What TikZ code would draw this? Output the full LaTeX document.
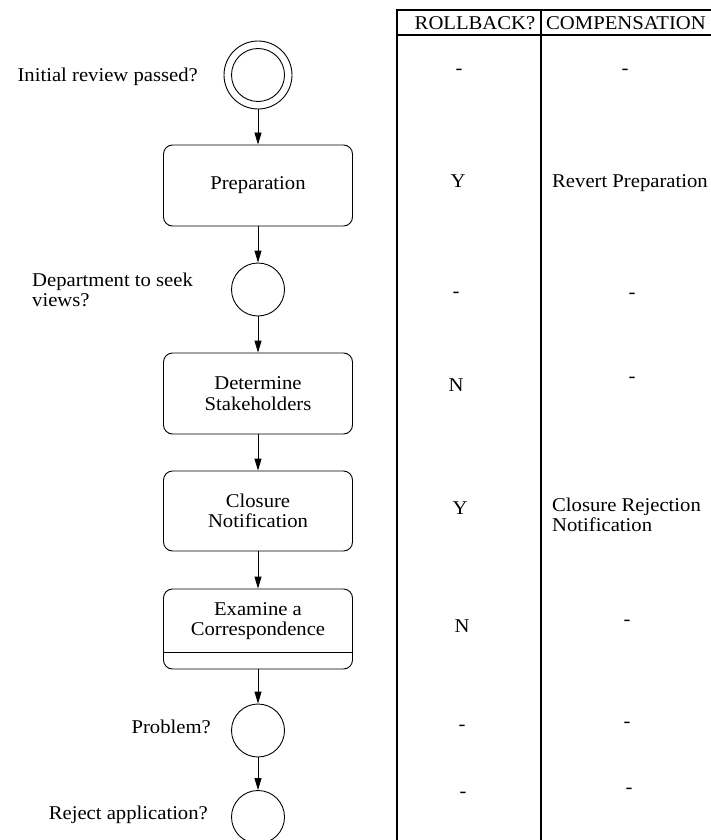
\documentclass[tikz,border=0pt]{standalone}
\usepackage{fontspec}
\setmainfont[FakeStretch=1.06]{Liberation Serif}
\usetikzlibrary{arrows.meta}
\begin{document}
\begin{tikzpicture}[x=1pt,y=-1pt,
  every node/.style={font=\fontsize{19.5}{20.5}\selectfont},
  task/.style={draw, rounded corners=9pt, minimum width=189pt, minimum height=81pt, line width=0.9pt, align=center, inner sep=0pt},
  evt/.style={draw, circle, minimum size=53pt, inner sep=0pt, line width=0.9pt},
  flow/.style={line width=0.9pt, -{Triangle[length=12pt,width=7pt]}},
  lbl/.style={inner sep=0pt},
  tab/.style={line width=1.3pt},
]
\useasboundingbox (0,0) rectangle (711,840);

% flow
\node[evt, minimum size=68pt] (start) at (258,75) {};
\node[evt] (startin) at (258,75) {};
\node[task] (prep) at (258,185.5) {Preparation};
\node[evt] (g1) at (258,289.5) {};
\node[task] (det) at (258,393.5) {Determine\\Stakeholders};
\node[task, minimum height=80pt] (clo) at (258,511) {Closure\\Notification};
\node[task, minimum height=80pt] (exa) at (258,629) {};
\node[lbl, align=center] (exat) at (258,621) {Examine a\\Correspondence};
\coordinate (exdl) at (163.5,652);
\coordinate (exdr) at (352.5,652);
\draw[line width=0.9pt] (exdl) -- (exdr);
\node[evt] (g2) at (258,730.5) {};
\node[evt] (g3) at (258,817) {};

\draw[flow] (start) -- (prep);
\draw[flow] (prep) -- (g1);
\draw[flow] (g1) -- (det);
\draw[flow] (det) -- (clo);
\draw[flow] (clo) -- (exa);
\draw[flow] (exa) -- (g2);
\draw[flow] (g2) -- (g3);

% labels
\node[lbl, anchor=east] (l0) at (198,77) {Initial review passed?};
\node[lbl, anchor=west, align=left] (l1) at (32,290) {Department to seek\\views?};
\node[lbl, anchor=east] (l2) at (211,727) {Problem?};
\node[lbl, anchor=east] (l3) at (208,815) {Reject application?};

% table
\coordinate (t1) at (397,10);
\coordinate (t2) at (711,10);
\coordinate (t3) at (397,35);
\coordinate (t4) at (711,35);
\coordinate (t5) at (397,840);
\coordinate (t6) at (541,10);
\coordinate (t7) at (541,840);
\draw[tab] (t2) -- (t1) -- (t5);
\draw[tab] (t3) -- (t4);
\draw[tab] (t6) -- (t7);

\node[lbl] (h1) at (475,23) {ROLLBACK?};
\node[lbl] (h2) at (626,23) {COMPENSATION};

\node[lbl] (r1a) at (459,72) {-};
\node[lbl] (r1b) at (625,72) {-};
\node[lbl] (r2a) at (458,181) {Y};
\node[lbl, anchor=west] (r2b) at (552,183) {Revert Preparation};
\node[lbl] (r3a) at (456,295) {-};
\node[lbl] (r3b) at (632,296) {-};
\node[lbl] (r4a) at (456,385) {N};
\node[lbl] (r4b) at (632,380) {-};
\node[lbl] (r5a) at (460,508) {Y};
\node[lbl, anchor=west, align=left] (r5b) at (552,515) {Closure Rejection\\Notification};
\node[lbl] (r6a) at (462,626) {N};
\node[lbl] (r6b) at (627,623) {-};
\node[lbl] (r7a) at (462,728) {-};
\node[lbl] (r7b) at (627,725) {-};
\node[lbl] (r8a) at (463,795) {-};
\node[lbl] (r8b) at (629,791) {-};
\end{tikzpicture}
\end{document}
